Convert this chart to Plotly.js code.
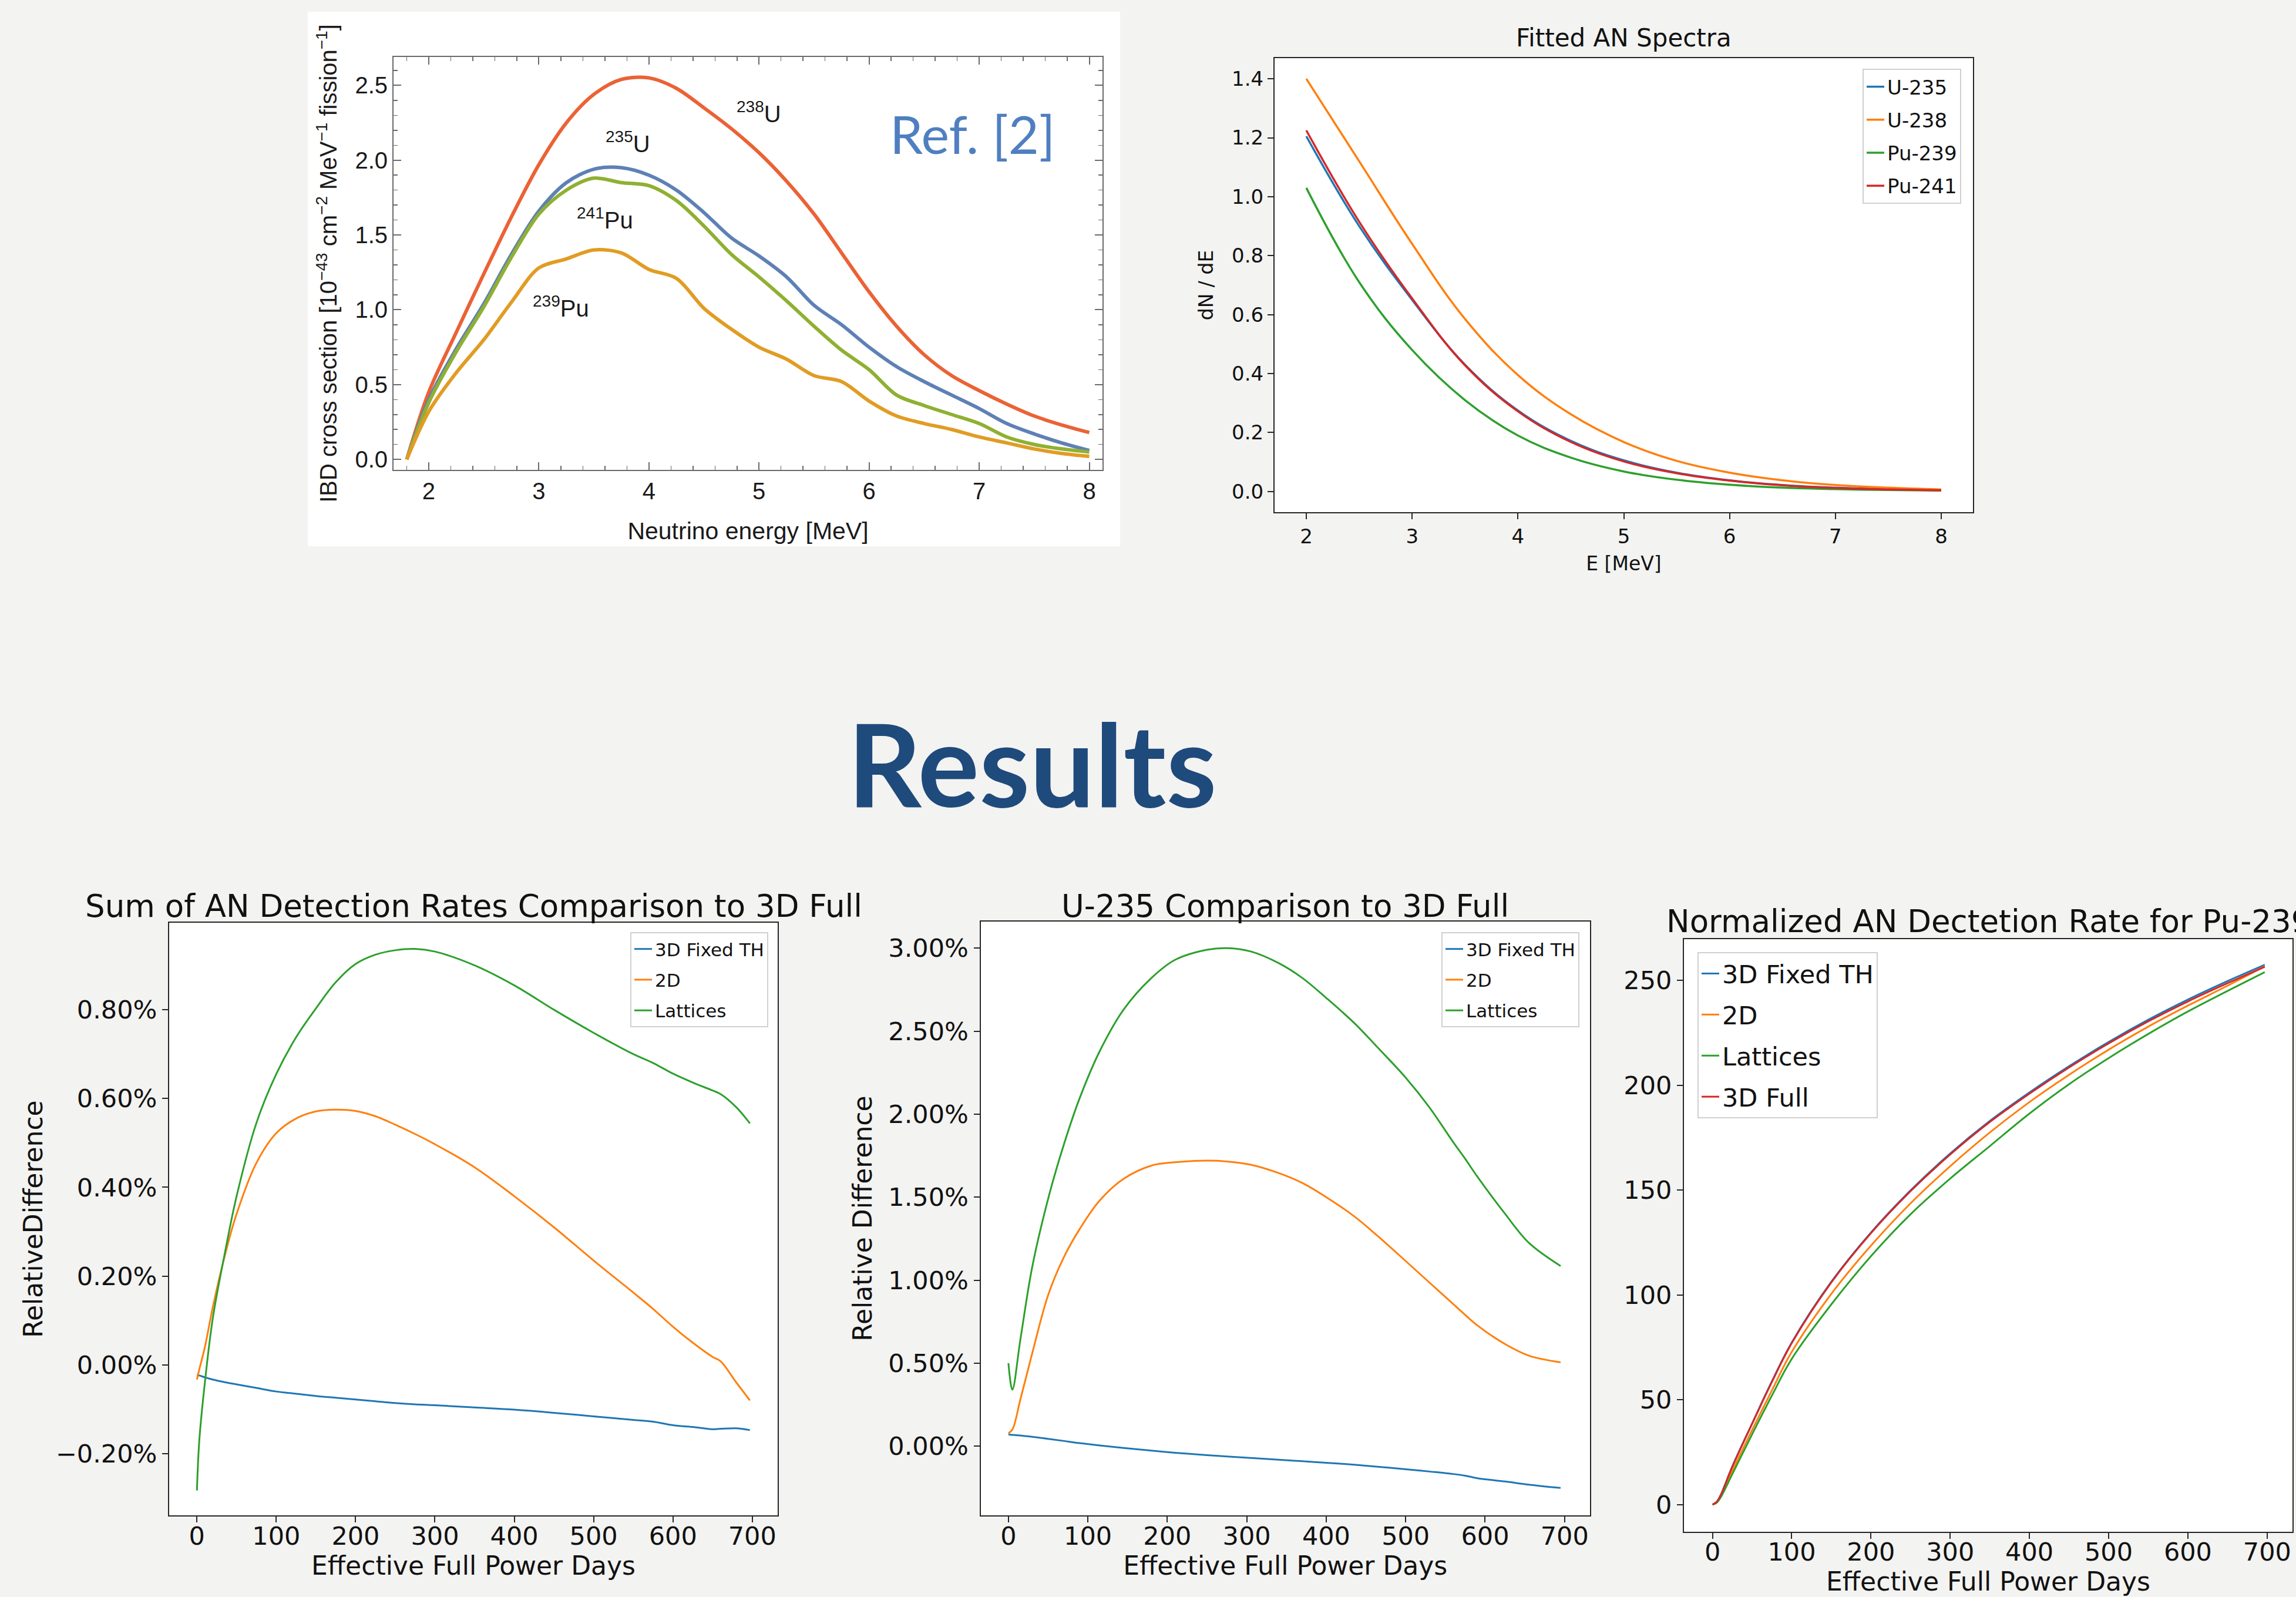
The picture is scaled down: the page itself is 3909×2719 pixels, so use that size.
<!DOCTYPE html>
<html>
<head>
<meta charset="utf-8">
<script src="https://cdn.plot.ly/plotly-3.0.1.min.js"></script>
<style>
  html, body { margin: 0; padding: 0; background: #f3f3f1; }
  #chart { width: 3909px; height: 2719px; }
</style>
</head>
<body>
<div id="chart"></div>
<script>
// ---------------- DATA ----------------
// Chart 1: IBD cross section (Ref. [2])
const E_ibd      = [1.8, 2, 2.25, 2.5, 2.75, 3, 3.25, 3.5, 3.75, 4, 4.25, 4.5, 4.75, 5, 5.25, 5.5, 5.75, 6, 6.25, 6.5, 6.75, 7, 7.25, 7.5, 7.75, 8];
const ibd_U238   = [0, 0.45, 0.85, 1.24, 1.62, 1.97, 2.25, 2.44, 2.54, 2.55, 2.48, 2.35, 2.21, 2.05, 1.86, 1.64, 1.38, 1.12, 0.89, 0.70, 0.56, 0.46, 0.37, 0.29, 0.23, 0.18];
const ibd_U235   = [0, 0.40, 0.74, 1.04, 1.37, 1.66, 1.85, 1.94, 1.95, 1.90, 1.80, 1.65, 1.48, 1.36, 1.22, 1.03, 0.90, 0.75, 0.62, 0.52, 0.43, 0.34, 0.24, 0.17, 0.11, 0.06];
const ibd_Pu241  = [0, 0.38, 0.72, 1.02, 1.35, 1.64, 1.80, 1.88, 1.85, 1.83, 1.73, 1.56, 1.37, 1.22, 1.06, 0.89, 0.73, 0.60, 0.43, 0.36, 0.30, 0.24, 0.15, 0.10, 0.07, 0.05];
const ibd_Pu239  = [0, 0.32, 0.58, 0.80, 1.05, 1.28, 1.34, 1.40, 1.38, 1.27, 1.21, 1.01, 0.87, 0.75, 0.67, 0.56, 0.52, 0.39, 0.29, 0.24, 0.20, 0.15, 0.11, 0.07, 0.04, 0.02];
const ibdLabels  = ['<sup>238</sup>U', '<sup>235</sup>U', '<sup>241</sup>Pu', '<sup>239</sup>Pu'];
const ibdLabelX  = [5.0, 3.81, 3.6, 3.2];
const ibdLabelY  = [2.32, 2.12, 1.61, 1.02];

// Chart 2: Fitted AN Spectra
const E_fit      = [2, 2.5, 3, 3.5, 4, 4.5, 5, 5.5, 6, 6.5, 7, 7.5, 8];
const fit_U235   = [1.205, 0.900, 0.650, 0.430, 0.275, 0.172, 0.106, 0.064, 0.038, 0.022, 0.013, 0.0075, 0.004];
const fit_U238   = [1.400, 1.120, 0.840, 0.585, 0.395, 0.262, 0.168, 0.104, 0.064, 0.038, 0.022, 0.013, 0.007];
const fit_Pu239  = [1.030, 0.710, 0.480, 0.310, 0.190, 0.115, 0.068, 0.040, 0.023, 0.013, 0.008, 0.005, 0.003];
const fit_Pu241  = [1.225, 0.915, 0.655, 0.428, 0.272, 0.168, 0.102, 0.062, 0.037, 0.021, 0.012, 0.007, 0.004];

// Chart 3: Sum of AN detection rates, relative difference (%)
const days_sum       = [0, 3, 10, 20, 35, 50, 75, 100, 125, 150, 175, 200, 225, 250, 275, 300, 350, 400, 450, 500, 550, 575, 600, 625, 650, 660, 680, 697];
const sum_fixedTH    = [-0.023, -0.024, -0.028, -0.033, -0.039, -0.044, -0.052, -0.060, -0.065, -0.070, -0.074, -0.078, -0.082, -0.086, -0.089, -0.091, -0.096, -0.101, -0.108, -0.116, -0.124, -0.128, -0.136, -0.140, -0.145, -0.144, -0.143, -0.147];
const sum_2D         = [-0.033, -0.010, 0.040, 0.130, 0.245, 0.340, 0.455, 0.522, 0.555, 0.571, 0.575, 0.572, 0.560, 0.541, 0.520, 0.497, 0.445, 0.380, 0.310, 0.235, 0.163, 0.126, 0.086, 0.050, 0.018, 0.008, -0.040, -0.080];
const sum_lattices   = [-0.283, -0.170, -0.040, 0.105, 0.250, 0.380, 0.545, 0.655, 0.738, 0.803, 0.862, 0.903, 0.924, 0.934, 0.937, 0.931, 0.900, 0.855, 0.800, 0.748, 0.700, 0.680, 0.656, 0.636, 0.618, 0.610, 0.580, 0.544];
const sumTickVals    = [-0.2, 0, 0.2, 0.4, 0.6, 0.8];
const sumTickText    = ['\u22120.20%', '0.00%', '0.20%', '0.40%', '0.60%', '0.80%'];

// Chart 4: U-235 relative difference (%)
const days_u235      = [0, 5, 15, 30, 50, 70, 90, 115, 145, 180, 210, 250, 275, 305, 340, 370, 400, 435, 465, 500, 530, 560, 575, 590, 625, 655, 695];
const u235_fixedTH   = [0.070, 0.068, 0.064, 0.056, 0.044, 0.031, 0.018, 0.004, -0.011, -0.027, -0.040, -0.054, -0.062, -0.071, -0.082, -0.091, -0.100, -0.112, -0.124, -0.139, -0.153, -0.168, -0.178, -0.193, -0.213, -0.232, -0.252];
const u235_2D        = [0.078, 0.100, 0.280, 0.560, 0.910, 1.140, 1.310, 1.480, 1.610, 1.690, 1.710, 1.720, 1.715, 1.695, 1.645, 1.585, 1.500, 1.385, 1.265, 1.115, 0.985, 0.855, 0.790, 0.728, 0.615, 0.545, 0.505];
const u235_lattices  = [0.500, 0.340, 0.640, 1.080, 1.490, 1.820, 2.100, 2.380, 2.630, 2.820, 2.930, 2.990, 3.000, 2.980, 2.910, 2.820, 2.700, 2.550, 2.400, 2.220, 2.040, 1.830, 1.730, 1.625, 1.400, 1.225, 1.085];
const u235TickVals   = [0, 0.5, 1, 1.5, 2, 2.5, 3];
const u235TickText   = ['0.00%', '0.50%', '1.00%', '1.50%', '2.00%', '2.50%', '3.00%'];

// Chart 5: Normalized AN detection rate for Pu-239
const days_pu        = [0, 5, 10, 25, 50, 75, 100, 150, 200, 250, 300, 350, 400, 450, 500, 550, 600, 650, 697];
const pu_fixedTH     = [0, 1.2, 4.3, 18.2, 38.7, 58.8, 77.3, 106.3, 129.8, 149.9, 167.5, 183.0, 196.6, 209.1, 220.7, 231.3, 240.9, 249.7, 257.5];
const pu_2D          = [0, 1.0, 3.6, 16.0, 35.5, 54.5, 72.8, 100.5, 123.5, 143.7, 161.4, 177.5, 192.0, 205.0, 217.0, 228.0, 238.0, 247.5, 256.8];
const pu_lattices    = [0, 0.8, 3.2, 14.5, 33.5, 52.0, 69.5, 95.5, 118.5, 138.5, 155.5, 171.0, 186.5, 200.5, 213.0, 224.5, 235.2, 245.0, 254.0];
const pu_full        = [0, 1.2, 4.2, 18.0, 38.5, 58.5, 77.0, 106.0, 129.5, 149.5, 167.0, 182.5, 196.0, 208.5, 220.0, 230.5, 240.0, 248.7, 256.5];

const dayTicks       = [0, 100, 200, 300, 400, 500, 600, 700];

// ---------------- STYLE ----------------
const W = 3909, H = 2719;
const px = v => v / W;           // pixel -> paper x
const py = v => 1 - v / H;       // pixel -> paper y
const DV   = 'DejaVu Sans, Verdana, sans-serif';
const LIB  = 'Liberation Sans, Arial, Helvetica, sans-serif';
const LATO = 'Lato, Open Sans, sans-serif';

const MMA = {blue: '#5E81B5', yellow: '#E19C24', green: '#8FB032', red: '#EB6235'};
const MPL = {blue: '#1f77b4', orange: '#ff7f0e', green: '#2ca02c', red: '#d62728'};

function line(x, y, name, color, width, xa, ya, legend, smooth, extra) {
  return Object.assign({
    type: 'scatter', mode: 'lines', x: x, y: y, name: name,
    line: {color: color, width: width, shape: 'spline', smoothing: smooth},
    xaxis: xa, yaxis: ya, legend: legend, legendgroup: legend + name,
    hoverinfo: 'skip'
  }, extra || {});
}

const traces = [
  // chart 1
  line(E_ibd, ibd_U238,  '238U',  MMA.red,    6, 'x', 'y', 'legend', 0.9, {showlegend: false}),
  line(E_ibd, ibd_U235,  '235U',  MMA.blue,   6, 'x', 'y', 'legend', 0.9, {showlegend: false}),
  line(E_ibd, ibd_Pu241, '241Pu', MMA.green,  6, 'x', 'y', 'legend', 0.9, {showlegend: false}),
  line(E_ibd, ibd_Pu239, '239Pu', MMA.yellow, 6, 'x', 'y', 'legend', 0.9, {showlegend: false}),
  // chart 2
  line(E_fit, fit_U235,  'U-235',  MPL.blue,   3.5, 'x2', 'y2', 'legend', 1.1),
  line(E_fit, fit_U238,  'U-238',  MPL.orange, 3.5, 'x2', 'y2', 'legend', 1.1),
  line(E_fit, fit_Pu239, 'Pu-239', MPL.green,  3.5, 'x2', 'y2', 'legend', 1.1),
  line(E_fit, fit_Pu241, 'Pu-241', MPL.red,    3.5, 'x2', 'y2', 'legend', 1.1),
  // chart 3
  line(days_sum, sum_fixedTH,  '3D Fixed TH', MPL.blue,   3, 'x3', 'y3', 'legend2', 1.0),
  line(days_sum, sum_2D,       '2D',          MPL.orange, 3, 'x3', 'y3', 'legend2', 1.0),
  line(days_sum, sum_lattices, 'Lattices',    MPL.green,  3, 'x3', 'y3', 'legend2', 1.0),
  // chart 4
  line(days_u235, u235_fixedTH,  '3D Fixed TH', MPL.blue,   3, 'x4', 'y4', 'legend3', 1.0),
  line(days_u235, u235_2D,       '2D',          MPL.orange, 3, 'x4', 'y4', 'legend3', 1.0),
  line(days_u235, u235_lattices, 'Lattices',    MPL.green,  3, 'x4', 'y4', 'legend3', 1.0),
  // chart 5
  line(days_pu, pu_fixedTH,  '3D Fixed TH', MPL.blue,   3, 'x5', 'y5', 'legend4', 1.1),
  line(days_pu, pu_2D,       '2D',          MPL.orange, 3, 'x5', 'y5', 'legend4', 1.1),
  line(days_pu, pu_lattices, 'Lattices',    MPL.green,  3, 'x5', 'y5', 'legend4', 1.1),
  line(days_pu, pu_full,     '3D Full',     MPL.red,    3, 'x5', 'y5', 'legend4', 1.1)
];

// axis templates
function mmaAxis(o) {
  return Object.assign({
    showgrid: false, zeroline: false, showline: true, linecolor: '#6a6a6a', linewidth: 2,
    mirror: 'allticks', ticks: 'inside', ticklen: 13, tickwidth: 2, tickcolor: '#6a6a6a',
    tickfont: {family: LIB, size: 40, color: '#1a1a1a'}, automargin: false, fixedrange: true
  }, o);
}
function mplAxis(o, fs) {
  return Object.assign({
    showgrid: false, zeroline: false, showline: true, linecolor: '#262626', linewidth: 2,
    mirror: true, ticks: 'outside', ticklen: 10, tickwidth: 2, tickcolor: '#262626',
    tickfont: {family: DV, size: fs, color: '#111'}, automargin: false, fixedrange: true
  }, o);
}

const legendBase = (x, y, xanchor, fs, gap) => ({
  x: x, y: y, xanchor: xanchor, yanchor: 'top', xref: 'paper', yref: 'paper',
  bgcolor: 'rgba(255,255,255,0.85)', bordercolor: '#d0d0d0', borderwidth: 2,
  font: {family: DV, size: fs, color: '#111'}, tracegroupgap: gap
});

const layout = {
  width: W, height: H,
  margin: {l: 0, r: 0, t: 0, b: 0, pad: 0},
  paper_bgcolor: '#f3f3f1', plot_bgcolor: '#ffffff',
  showlegend: true,
  // chart 1
  xaxis: mmaAxis({domain: [px(670), px(1877)], range: [1.68, 8.12], anchor: 'y',
    tickvals: [2, 3, 4, 5, 6, 7, 8],
    minor: {tick0: 2, dtick: 0.2, ticks: 'inside', ticklen: 7, tickwidth: 1.5, tickcolor: '#6a6a6a'},
    title: {text: 'Neutrino energy [MeV]', font: {family: LIB, size: 41, color: '#1a1a1a'}, standoff: 32}}),
  yaxis: mmaAxis({domain: [py(800), py(97)], range: [-0.07, 2.69], anchor: 'x',
    tickvals: [0, 0.5, 1, 1.5, 2, 2.5], tickformat: '.1f',
    minor: {tick0: 0, dtick: 0.1, ticks: 'inside', ticklen: 7, tickwidth: 1.5, tickcolor: '#6a6a6a'},
    title: {text: 'IBD cross section [10<sup>\u221243</sup> cm<sup>\u22122</sup> MeV<sup>\u22121</sup> fission<sup>\u22121</sup>]',
      font: {family: LIB, size: 40, color: '#1a1a1a'}, standoff: 18}}),
  // chart 2
  xaxis2: mplAxis({domain: [px(2170), px(3359)], range: [1.7, 8.3], anchor: 'y2', dtick: 1, tick0: 0,
    title: {text: 'E [MeV]', font: {family: DV, size: 33, color: '#111'}, standoff: 16}}, 34),
  yaxis2: mplAxis({domain: [py(872), py(99)], range: [-0.07, 1.47], anchor: 'x2', dtick: 0.2, tick0: 0, tickformat: '.1f',
    title: {text: 'dN / dE', font: {family: DV, size: 33, color: '#111'}, standoff: 22}}, 34),
  // chart 3
  xaxis3: mplAxis({domain: [px(288), px(1324)], range: [-35, 732], anchor: 'y3', tickvals: dayTicks,
    ticklabelstandoff: -14,
    title: {text: 'Effective Full Power Days', font: {family: DV, size: 44, color: '#111'}, standoff: 4}}, 43),
  yaxis3: mplAxis({domain: [py(2580), py(1571)], range: [-0.339, 0.996], anchor: 'x3',
    tickvals: sumTickVals, ticktext: sumTickText,
    title: {text: 'RelativeDifference', font: {family: DV, size: 44, color: '#111'}, standoff: 8}}, 43),
  // chart 4
  xaxis4: mplAxis({domain: [px(1669.5), px(2707)], range: [-35, 732], anchor: 'y4', tickvals: dayTicks,
    ticklabelstandoff: -14,
    title: {text: 'Effective Full Power Days', font: {family: DV, size: 44, color: '#111'}, standoff: 4}}, 43),
  yaxis4: mplAxis({domain: [py(2580), py(1569)], range: [-0.417, 3.16], anchor: 'x4',
    tickvals: u235TickVals, ticktext: u235TickText,
    title: {text: 'Relative Difference', font: {family: DV, size: 44, color: '#111'}, standoff: 14}}, 43),
  // chart 5
  xaxis5: mplAxis({domain: [px(2867), px(3903)], range: [-36, 732], anchor: 'y5', tickvals: dayTicks,
    ticklabelstandoff: -14,
    title: {text: 'Effective Full Power Days', font: {family: DV, size: 44, color: '#111'}, standoff: 4}}, 43),
  yaxis5: mplAxis({domain: [py(2607.5), py(1598.5)], range: [-12.85, 269.85], anchor: 'x5',
    tickvals: [0, 50, 100, 150, 200, 250]}, 43),
  // legends
  legend:  legendBase(px(3339), py(117), 'right', 34, 9),
  legend2: legendBase(px(1308), py(1587), 'right', 31, 9),
  legend3: legendBase(px(2689), py(1587), 'right', 31, 9),
  legend4: legendBase(px(2890), py(1621), 'left', 43, 11),
  shapes: [
    {type: 'rect', xref: 'paper', yref: 'paper', layer: 'below',
     x0: px(524), x1: px(1907), y0: py(930), y1: py(20),
     line: {width: 0}, fillcolor: '#ffffff'}
  ],
  annotations: [
    // chart 1 isotope labels
    ...ibdLabels.map((t, i) => ({text: t, x: ibdLabelX[i], y: ibdLabelY[i], xref: 'x', yref: 'y',
      showarrow: false, xanchor: 'center', yanchor: 'middle', font: {family: LIB, size: 40, color: '#1a1a1a'}})),
    {text: 'Ref. [2]', x: px(1656), y: py(227), xref: 'paper', yref: 'paper', showarrow: false,
     xanchor: 'center', yanchor: 'middle', font: {family: LATO, size: 90, color: '#4f7fc0'}},
    // subplot titles
    {text: 'Fitted AN Spectra', x: px(2764.5), y: py(64), xref: 'paper', yref: 'paper', showarrow: false,
     xanchor: 'center', yanchor: 'middle', font: {family: DV, size: 42, color: '#111'}},
    {text: 'Sum of AN Detection Rates Comparison to 3D Full', x: px(806), y: py(1542), xref: 'paper', yref: 'paper',
     showarrow: false, xanchor: 'center', yanchor: 'middle', font: {family: DV, size: 53, color: '#111'}},
    {text: 'U-235 Comparison to 3D Full', x: px(2188), y: py(1542), xref: 'paper', yref: 'paper',
     showarrow: false, xanchor: 'center', yanchor: 'middle', font: {family: DV, size: 53, color: '#111'}},
    {text: 'Normalized AN Dectetion Rate for Pu-239', x: px(3385), y: py(1568), xref: 'paper', yref: 'paper',
     showarrow: false, xanchor: 'center', yanchor: 'middle', font: {family: DV, size: 53, color: '#111'}},
    // slide heading
    {text: '<b>Results</b>', x: px(1757), y: py(1299), xref: 'paper', yref: 'paper', showarrow: false,
     xanchor: 'center', yanchor: 'middle', font: {family: LATO, size: 196, color: '#1f4a7c'}}
  ]
};

Plotly.newPlot('chart', traces, layout, {displayModeBar: false, staticPlot: true});
</script>
</body>
</html>
